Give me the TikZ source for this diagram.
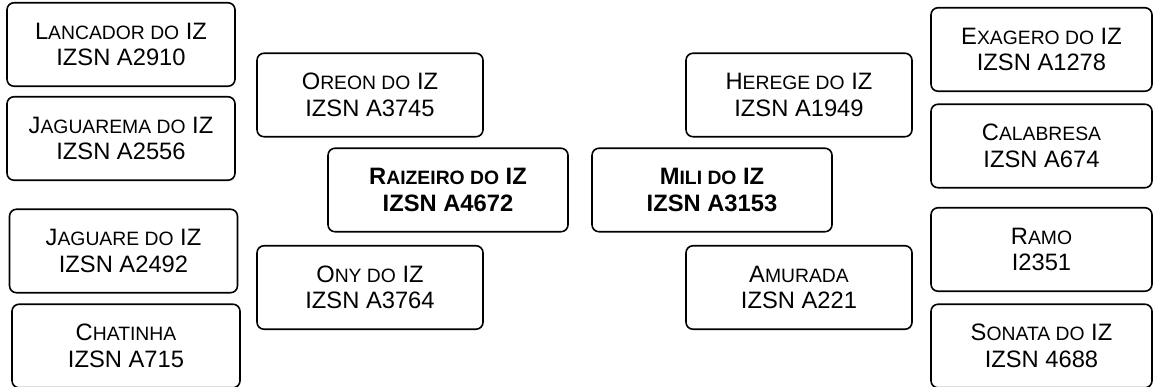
\documentclass[tikz,border=0pt]{standalone}
\usepackage{fontspec}
\setmainfont{Liberation Sans}
\usetikzlibrary{positioning}
\newcommand{\smcap}[2]{#1{\fontsize{11}{12}\selectfont #2}}

\begin{document}
\begin{tikzpicture}[every node/.style={align=center,font=\fontsize{13.5}{15}\selectfont},
    anc/.style={draw,rounded corners=4pt,line width=0.9pt,inner sep=0pt,minimum height=1.67cm},
    outer/.style={anc,minimum width=4.56cm},
    inner/.style={anc,minimum width=4.52cm},
    parent/.style={anc,minimum width=4.8cm,font=\fontsize{13.5}{15}\selectfont\bfseries}]
  \useasboundingbox (0,0) rectangle (23.06,7.74);
  % sire side
  \node[parent] (raizeiro) at (8.96,3.94) {\smcap{R}{AIZEIRO DO} IZ\\IZSN A4672};
  \node[inner] (oreon) at (7.40,5.84) {\smcap{O}{REON DO} IZ\\IZSN A3745};
  \node[inner] (ony) at (7.40,1.99) {\smcap{O}{NY DO} IZ\\IZSN A3764};
  \node[outer] (lancador) at (2.42,6.85) {\smcap{L}{ANCADOR DO} IZ\\IZSN A2910};
  \node[outer] (jaguarema) at (2.42,4.97) {\smcap{J}{AGUAREMA DO} IZ\\IZSN A2556};
  \node[outer] (jaguare) at (2.47,2.72) {\smcap{J}{AGUARE DO} IZ\\IZSN A2492};
  \node[outer] (chatinha) at (2.52,0.82) {\smcap{C}{HATINHA}\\IZSN A715};
  % dam side
  \node[parent] (mili) at (14.24,3.94) {\smcap{M}{ILI DO} IZ\\IZSN A3153};
  \node[inner] (herege) at (15.98,5.84) {\smcap{H}{EREGE DO} IZ\\IZSN A1949};
  \node[inner] (amurada) at (15.98,1.99) {\smcap{A}{MURADA}\\IZSN A221};
  \node[outer,minimum width=4.42cm] (exagero) at (20.83,6.75) {\smcap{E}{XAGERO DO} IZ\\IZSN A1278};
  \node[outer,minimum width=4.42cm] (calabresa) at (20.83,4.82) {\smcap{C}{ALABRESA}\\IZSN A674};
  \node[outer,minimum width=4.42cm] (ramo) at (20.83,2.75) {\smcap{R}{AMO}\\I2351};
  \node[outer,minimum width=4.42cm] (sonata) at (20.83,0.82) {\smcap{S}{ONATA DO} IZ\\IZSN 4688};
\end{tikzpicture}
\end{document}
